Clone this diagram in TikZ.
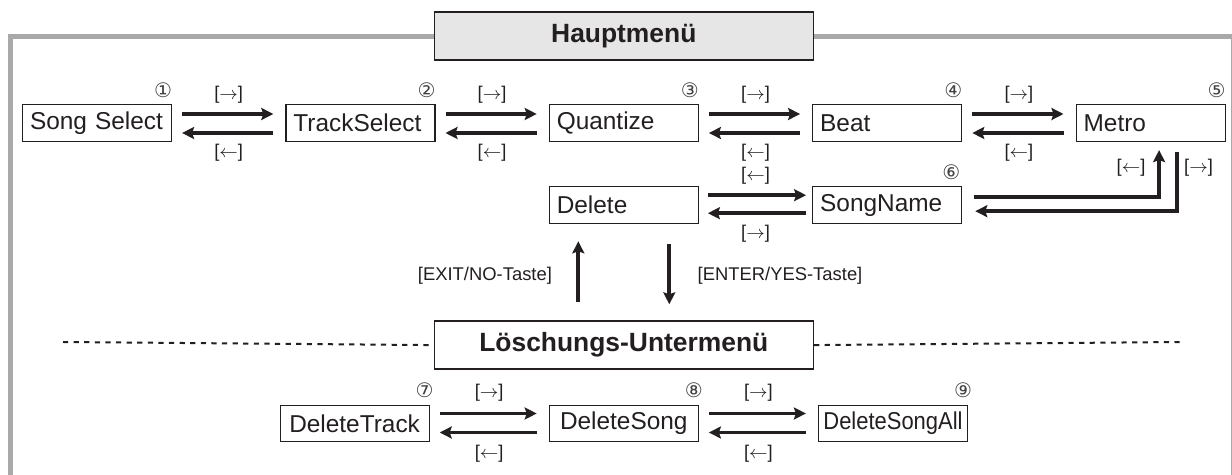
\documentclass[tikz,border=0pt]{standalone}
\usepackage{fontspec}
\setmainfont{Liberation Sans}
\newfontfamily\circfont{DejaVu Sans}
\newfontfamily\narrowfont[FakeStretch=0.9]{Liberation Sans}
\usetikzlibrary{arrows.meta,positioning,calc,backgrounds}
\definecolor{menuInk}{HTML}{231F20}
\definecolor{menuFrame}{HTML}{A9A9A9}
\definecolor{menuHeadFill}{HTML}{E6E6E6}
\tikzset{
  menu/base/.style={draw=menuInk, line width=0.6pt, text=menuInk, inner ysep=0pt},
  menu/screen/.style={menu/base, minimum height=18.5pt, text width=67pt,
    inner xsep=3.75pt, align=left, font=\fontsize{12.2}{14}\selectfont},
  menu/subscreen/.style={menu/base, minimum height=18pt, minimum width=74.5pt,
    inner xsep=2pt, font=\fontsize{12.2}{14}\selectfont},
  menu/heading/.style={menu/base, line width=0.8pt, minimum width=189.5pt,
    minimum height=24pt, font=\bfseries\fontsize{13.2}{15}\selectfont},
  menu/key/.style={font=\fontsize{9.2}{11}\selectfont, text=menuInk, inner sep=1pt},
  menu/index/.style={font=\circfont\fontsize{10}{12}\selectfont, text=menuInk!85,
    inner sep=0pt},
  menu/flow/.style={-{Stealth[length=6pt,width=6pt,inset=1pt]}, draw=menuInk,
    line width=1.9pt},
  menu/separator/.style={draw=menuInk, line width=1pt,
    dash pattern=on 2.6pt off 2.7pt},
  menu/frame/.style={draw=menuFrame, line width=2.5pt},
}
\newcommand{\keyfwd}{[$\rightarrow$]}
\newcommand{\keyback}{[$\leftarrow$]}

\begin{document}
\begin{tikzpicture}[x=0.5pt, y=-0.5pt, node distance=22pt and 56.6pt]
\useasboundingbox (0,0) rectangle (1232,475);
% main menu
\node[menu/screen] (ss) at (97,123) {Song Select};
\node[menu/screen, right=of ss] (ts) {TrackSelect};
\node[menu/screen, right=of ts] (qz) {Quantize};
\node[menu/screen, right=of qz] (bt) {Beat};
\node[menu/screen, right=of bt] (mt) {Metro};
\node[menu/screen, below=of qz] (del) {Delete};
\node[menu/screen, right=of del] (sn) {SongName};
\node[menu/heading, fill=menuHeadFill, above=21.5pt of qz] (hm) {Hauptmenü};
% delete submenu
\node[menu/heading, fill=white, below=48pt of del] (lum) {Löschungs-Untermenü};
\node[menu/subscreen, below=17.5pt of lum] (ds) {DeleteSong};
\node[menu/subscreen, left=59.5pt of ds] (dt) {DeleteTrack};
\node[menu/subscreen, right=59.5pt of ds, font=\narrowfont\fontsize{12.2}{14}\selectfont] (dsa) {DeleteSongAll};
\coordinate (dl) at (63,342);
\coordinate (dr) at (1183,342);
\coordinate (fl) at (10.5,476);
\coordinate (fr) at (1233.5,476);

% step numbers
\node[menu/index] (i1) at ([xshift=-4.5pt,yshift=7pt]ss.north east) {①};
\node[menu/index] (i2) at ([xshift=-4.5pt,yshift=7pt]ts.north east) {②};
\node[menu/index] (i3) at ([xshift=-4.5pt,yshift=7pt]qz.north east) {③};
\node[menu/index] (i4) at ([xshift=-4.5pt,yshift=7pt]bt.north east) {④};
\node[menu/index] (i5) at ([xshift=-4.5pt,yshift=7pt]mt.north east) {⑤};
\node[menu/index] (i6) at ([xshift=-5.5pt,yshift=7pt]sn.north east) {⑥};
\node[menu/index] (i7) at ([xshift=-2.5pt,yshift=7.5pt]dt.north east) {⑦};
\node[menu/index] (i8) at ([xshift=-2.5pt,yshift=7.5pt]ds.north east) {⑧};
\node[menu/index] (i9) at ([xshift=-2.5pt,yshift=7.5pt]dsa.north east) {⑨};

% key labels
\node[menu/key] (k1f) at ($(ss.east)!0.5!(ts.west)+(0,14pt)$) {\keyfwd};
\node[menu/key] (k1b) at ($(ss.east)!0.5!(ts.west)-(0,15pt)$) {\keyback};
\node[menu/key] (k2f) at ($(ts.east)!0.5!(qz.west)+(0,14pt)$) {\keyfwd};
\node[menu/key] (k2b) at ($(ts.east)!0.5!(qz.west)-(0,15pt)$) {\keyback};
\node[menu/key] (k3f) at ($(qz.east)!0.5!(bt.west)+(0,14pt)$) {\keyfwd};
\node[menu/key] (k3b) at ($(qz.east)!0.5!(bt.west)-(0,15pt)$) {\keyback};
\node[menu/key] (k4f) at ($(bt.east)!0.5!(mt.west)+(0,14pt)$) {\keyfwd};
\node[menu/key] (k4b) at ($(bt.east)!0.5!(mt.west)-(0,15pt)$) {\keyback};
\node[menu/key] (k5b) at ($(del.east)!0.5!(sn.west)+(0,14.5pt)$) {\keyback};
\node[menu/key] (k5f) at ($(del.east)!0.5!(sn.west)-(0,14.5pt)$) {\keyfwd};
\node[menu/key] (k6b) at ([xshift=-9.75pt,yshift=-13pt]mt.south) {\keyback};
\node[menu/key] (k6f) at ([xshift=24pt,yshift=-13pt]mt.south) {\keyfwd};
\node[menu/key] (k7f) at ($(dt.east)!0.5!(ds.west)+(0,15.5pt)$) {\keyfwd};
\node[menu/key] (k7b) at ($(dt.east)!0.5!(ds.west)-(0,15pt)$) {\keyback};
\node[menu/key] (k8f) at ($(ds.east)!0.5!(dsa.west)+(0,15.5pt)$) {\keyfwd};
\node[menu/key] (k8b) at ($(ds.east)!0.5!(dsa.west)-(0,15pt)$) {\keyback};
\node[menu/key, anchor=east] (kexit) at ([xshift=-34.75pt,yshift=22.5pt]lum.north) {[EXIT/NO-Taste]};
\node[menu/key, anchor=west] (kenter) at ([xshift=35.75pt,yshift=22.5pt]lum.north) {[ENTER/YES-Taste]};

% connectors
\draw[menu/flow] ([xshift=5pt,yshift=4.5pt]ss.east) -- ([xshift=-6pt,yshift=4.5pt]ts.west);
\draw[menu/flow] ([xshift=-6pt,yshift=-5pt]ts.west) -- ([xshift=5pt,yshift=-5pt]ss.east);
\draw[menu/flow] ([xshift=5pt,yshift=4.5pt]ts.east) -- ([xshift=-6pt,yshift=4.5pt]qz.west);
\draw[menu/flow] ([xshift=-6pt,yshift=-5pt]qz.west) -- ([xshift=5pt,yshift=-5pt]ts.east);
\draw[menu/flow] ([xshift=5pt,yshift=4.5pt]qz.east) -- ([xshift=-6pt,yshift=4.5pt]bt.west);
\draw[menu/flow] ([xshift=-6pt,yshift=-5pt]bt.west) -- ([xshift=5pt,yshift=-5pt]qz.east);
\draw[menu/flow] ([xshift=5pt,yshift=4.5pt]bt.east) -- ([xshift=-6pt,yshift=4.5pt]mt.west);
\draw[menu/flow] ([xshift=-6pt,yshift=-5pt]mt.west) -- ([xshift=5pt,yshift=-5pt]bt.east);
\draw[menu/flow] ([xshift=4.5pt,yshift=5pt]del.east) -- ([xshift=-3pt,yshift=5pt]sn.west);
\draw[menu/flow] ([xshift=-3pt,yshift=-4pt]sn.west) -- ([xshift=4.5pt,yshift=-4pt]del.east);
\draw[menu/flow] ([xshift=6pt,yshift=4pt]sn.east) -| ([xshift=4.25pt,yshift=-4pt]mt.south);
\draw[menu/flow] ([xshift=13.25pt,yshift=-5pt]mt.south) |- ([xshift=6.5pt,yshift=-3pt]sn.east);
\draw[menu/flow] ([xshift=-22.75pt,yshift=9pt]lum.north) -- ([xshift=-22.75pt,yshift=-8.5pt]del.south);
\draw[menu/flow] ([xshift=22.75pt,yshift=-10pt]del.south) -- ([xshift=22.75pt,yshift=8pt]lum.north);
\draw[menu/flow] ([xshift=5pt,yshift=5pt]dt.east) -- ([xshift=-6pt,yshift=5pt]ds.west);
\draw[menu/flow] ([xshift=-6pt,yshift=-4.5pt]ds.west) -- ([xshift=5pt,yshift=-4.5pt]dt.east);
\draw[menu/flow] ([xshift=5pt,yshift=5pt]ds.east) -- ([xshift=-6pt,yshift=5pt]dsa.west);
\draw[menu/flow] ([xshift=-6pt,yshift=-4.5pt]dsa.west) -- ([xshift=5pt,yshift=-4.5pt]ds.east);
\draw[menu/separator] (dl) -- (lum.west);
\draw[menu/separator] (lum.east) -- (dr);

\begin{scope}[on background layer]
\draw[menu/frame] (hm.west) -| (fl);
\draw[menu/frame] (hm.east) -| (fr);
\end{scope}
\end{tikzpicture}
\end{document}
